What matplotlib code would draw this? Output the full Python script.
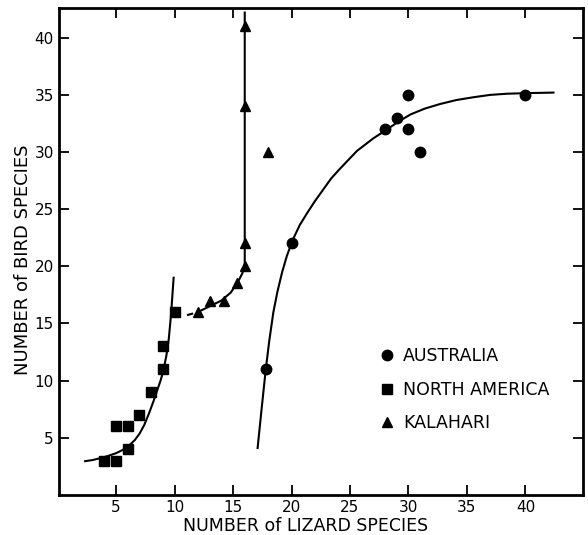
import matplotlib
matplotlib.use("Agg")
import matplotlib.pyplot as plt

# observed points
aus_x = [17.8, 20, 28, 29, 30, 30, 31, 40]
aus_y = [11, 22, 32, 33, 35, 32, 30, 35]
na_x = [4, 5, 5, 6, 6, 7, 8, 9, 9, 10]
na_y = [3, 3, 6, 6, 4, 7, 9, 11, 13, 16]
kal_x = [12, 13, 14.2, 15.3, 16, 16, 16, 16, 18]
kal_y = [16, 17, 17, 18.5, 20, 22, 34, 41, 30]

# hand drawn curves
na_curve_x = [2.35, 3.0, 3.6, 4.3, 5.0, 5.6, 6.1, 6.6, 7.0, 7.4, 7.8, 8.2, 8.5,
              8.8, 9.05, 9.3, 9.5, 9.7, 9.85, 9.92]
na_curve_y = [2.95, 3.05, 3.2, 3.4, 3.65, 3.95, 4.3, 4.8, 5.35, 6.1, 7.1, 8.2, 9.1,
              10.0, 10.9, 12.2, 13.6, 15.8, 18.0, 19.0]
aus_curve_x = [17.1, 17.45, 17.8, 18.1, 18.45, 18.8, 19.2, 19.6, 20.1, 20.7, 21.3,
               22.0, 22.7, 23.4, 24.2, 25.6, 27.0, 28.2, 29.2, 30.2, 31.4, 32.7,
               34.1, 35.6, 37.0, 38.4, 40.0, 42.4]
aus_curve_y = [4.1, 7.6, 11.0, 13.5, 16.0, 17.8, 19.5, 20.9, 22.3, 23.6, 24.6,
               25.7, 26.7, 27.7, 28.6, 30.1, 31.2, 32.0, 32.7, 33.3, 33.8, 34.2,
               34.55, 34.8, 35.0, 35.1, 35.15, 35.2]
kal_curve_x = [12.0, 13.0, 14.0, 14.8, 15.4, 15.8, 16.0, 16.0]
kal_curve_y = [16.0, 16.5, 17.0, 17.7, 18.6, 19.4, 20.0, 42.2]
kal_dash_x = [11.15, 11.5]
kal_dash_y = [15.75, 15.85]

xticks = [5, 10, 15, 20, 25, 30, 35, 40]
yticks = [5, 10, 15, 20, 25, 30, 35, 40]

plt.rcParams['font.family'] = ['DejaVu Sans']
fig = plt.figure(figsize=(5.88, 5.35), dpi=100)
ax = fig.add_axes([0.101, 0.075, 0.890, 0.910])

lw = 1.5
ax.plot(na_curve_x, na_curve_y, color="black", lw=lw)
ax.plot(aus_curve_x, aus_curve_y, color="black", lw=lw)
ax.plot(kal_curve_x, kal_curve_y, color="black", lw=lw)
ax.plot(kal_dash_x, kal_dash_y, color="black", lw=lw)

ax.plot(aus_x, aus_y, "o", color="black", ms=7.5, label="AUSTRALIA", clip_on=False)
ax.plot(na_x, na_y, "s", color="black", ms=6.8, label="NORTH AMERICA", clip_on=False)
ax.plot(kal_x, kal_y, "^", color="black", ms=7, label="KALAHARI", clip_on=False)

ax.set_xlim(0.15, 44.9)
ax.set_ylim(0, 42.6)
ax.set_xticks(xticks)
ax.set_yticks(yticks)
ax.tick_params(direction="in", length=7, width=1.3, top=True, right=True,
               labeltop=False, labelright=False, labelsize=11, pad=4)
for s in ax.spines.values():
    s.set_linewidth(2)

ax.set_xlabel("NUMBER of LIZARD SPECIES", fontsize=12.5, labelpad=1)
ax.set_ylabel("NUMBER of BIRD SPECIES", fontsize=13, labelpad=2)
ax.xaxis.label.set_x(0.471)
ax.yaxis.label.set_y(0.482)

ax.legend(loc="upper left", bbox_to_anchor=(0.60, 0.318), frameon=False,
          fontsize=12.5, handlelength=0.8, handletextpad=0.5, labelspacing=0.9,
          borderaxespad=0)

fig.savefig("out.png", dpi=100)
